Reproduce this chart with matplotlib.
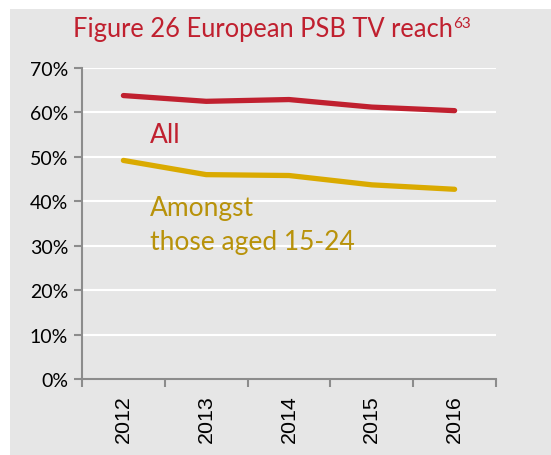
import matplotlib
matplotlib.use("Agg")
import matplotlib.pyplot as plt
from matplotlib.patches import Rectangle
from matplotlib.ticker import FixedLocator, FuncFormatter

years = ["2012", "2013", "2014", "2015", "2016"]
all_reach = [63.8, 62.5, 62.9, 61.2, 60.4]
young_reach = [49.2, 46.0, 45.8, 43.7, 42.7]
y_ticks = [0, 10, 20, 30, 40, 50, 60, 70]

RED = "#C0202F"
GOLD_LINE = "#DAAA00"
GOLD_TEXT = "#B8920A"
BG = "#E6E6E6"
AXC = "#8C8C8C"
FONT = "Lato"

fig = plt.figure(figsize=(5.51, 4.56), dpi=100)
fig.patch.set_facecolor("white")
fig.patches.append(Rectangle((10 / 551, 0), 1, 1 - 10 / 456, transform=fig.transFigure,
                             facecolor=BG, edgecolor="none", zorder=-10))

ax = fig.add_axes([82 / 551, 1 - 380 / 456, 414 / 551, 311 / 456])
ax.set_facecolor(BG)
x = list(range(len(years)))
ax.plot(x, all_reach, color=RED, lw=3.8, solid_capstyle="round", zorder=3)
ax.plot(x, young_reach, color=GOLD_LINE, lw=3.8, solid_capstyle="round", zorder=3)

ax.set_xlim(-0.5, len(years) - 0.5)
ax.set_ylim(0, 70)
ax.yaxis.set_major_locator(FixedLocator(y_ticks))
ax.yaxis.set_major_formatter(FuncFormatter(lambda v, p: f"{int(v)}%"))
for v in y_ticks[1:]:
    ax.axhline(v, color="white", lw=1.5, zorder=1)

ax.set_xticks(x)
ax.set_xticklabels(years, rotation=90, family="Liberation Sans", fontsize=15.4)
ax.set_xticks([i - 0.5 for i in range(len(years) + 1)], minor=True)
ax.tick_params(axis="x", which="major", length=0, pad=11)
ax.tick_params(axis="x", which="minor", length=6, width=1.5, color=AXC, direction="out")
ax.tick_params(axis="y", which="major", length=6, width=1.5, color=AXC, direction="out",
               labelsize=14, pad=4)
for lab in ax.get_yticklabels():
    lab.set_family(FONT)
for s in ["top", "right"]:
    ax.spines[s].set_visible(False)
for s in ["left", "bottom"]:
    ax.spines[s].set_color(AXC)
    ax.spines[s].set_linewidth(1.5)

ax.text(0.32, 53.3, "All", color=RED, fontsize=19, family=FONT, va="baseline", ha="left")
ax.text(0.32, 37.0, "Amongst", color=GOLD_TEXT, fontsize=19, family=FONT, va="baseline", ha="left")
ax.text(0.32, 29.2, "those aged 15-24", color=GOLD_TEXT, fontsize=19, family=FONT, va="baseline", ha="left")

t = fig.text(73 / 551, 1 - 37 / 456, "Figure 26 European PSB TV reach", color=RED,
             fontsize=18.4, family=FONT, va="baseline", ha="left")
fig.canvas.draw()
bb = t.get_window_extent()
fig.text(bb.x1 / fig.bbox.width, 1 - 28 / 456, "63", color=RED, fontsize=11,
         family=FONT, va="baseline", ha="left")

fig.savefig("out.png", dpi=100, facecolor=fig.get_facecolor())
